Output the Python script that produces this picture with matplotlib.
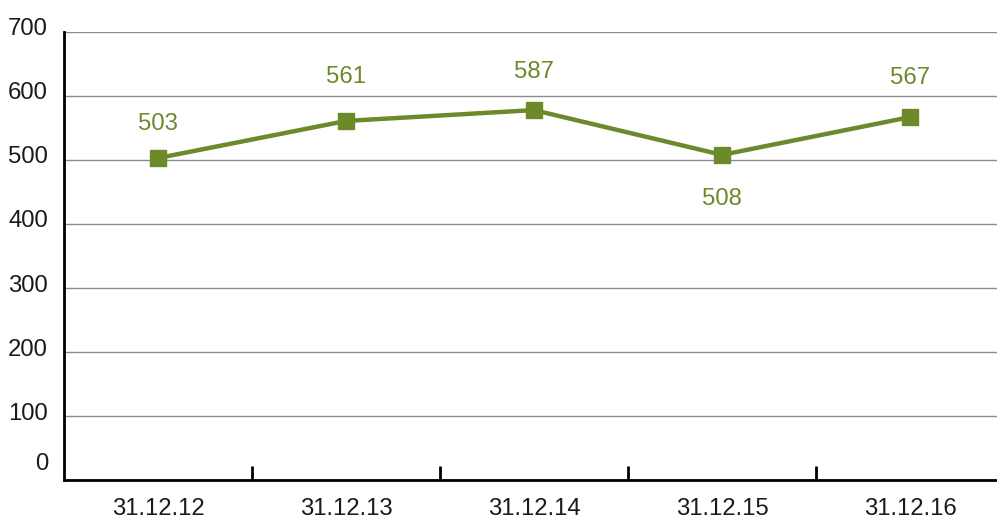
import matplotlib
matplotlib.use("Agg")
import matplotlib.pyplot as plt
from matplotlib.transforms import ScaledTranslation

categories = ["31.12.12", "31.12.13", "31.12.14", "31.12.15", "31.12.16"]
values = [503, 561, 578, 508, 567]
value_labels = ["503", "561", "587", "508", "567"]
label_offsets = [37, 46, 41, -42, 42]  # pixels above (+) / below (-) the marker
yticks = [0, 100, 200, 300, 400, 500, 600, 700]

plt.rcParams["font.family"] = ["Liberation Sans", "DejaVu Sans"]
green = "#6c8a29"
fs = 17.2
fig = plt.figure(figsize=(9.97, 5.23), dpi=100)
W, H = 997, 523
ax = fig.add_axes([64 / W, (H - 480) / H, 940 / W, 448 / H])

x = list(range(len(categories)))
ax.plot(x, values, color=green, lw=3.2, marker="s", ms=11.5, zorder=3, clip_on=False)

for xi, v, lab, off in zip(x, values, value_labels, label_offsets):
    ax.annotate(lab, (xi, v), xytext=(0, off), textcoords="offset pixels",
                ha="center", va="center_baseline", color=green, fontsize=fs)

ax.set_xlim(-0.5, 4.5)
ax.set_ylim(0, 700)
ax.set_yticks(yticks)
ax.set_yticklabels([str(t) for t in yticks], fontsize=fs, color="#1a1a1a")
ax.tick_params(axis="y", length=0, pad=11.5)
for lbl, t in zip(ax.get_yticklabels(), yticks):
    dy = 18 / 100 if t == 0 else 5 / 100
    lbl.set_transform(lbl.get_transform() + ScaledTranslation(0, dy, fig.dpi_scale_trans))

ax.set_xticks([i + 0.5 for i in range(4)])
ax.set_xticklabels([])
ax.set_xticks(x, minor=True)
ax.set_xticklabels(categories, minor=True, fontsize=fs, color="#1a1a1a")
ax.tick_params(axis="x", which="major", direction="in", length=10, width=2, color="black")
ax.tick_params(axis="x", which="minor", length=0, pad=13)

ax.grid(axis="y", color="#8c8c8c", lw=1)
ax.set_axisbelow(True)
for s in ["top", "right"]:
    ax.spines[s].set_visible(False)
ax.spines["left"].set_linewidth(2)
ax.spines["bottom"].set_linewidth(2)

fig.savefig("out.png", dpi=100)
